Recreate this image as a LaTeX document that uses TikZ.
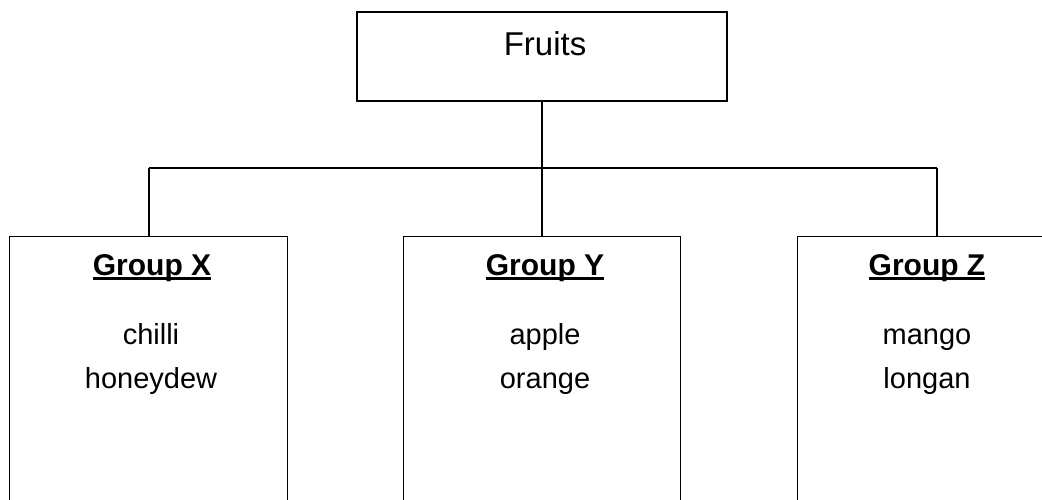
\documentclass[tikz,border=0pt]{standalone}
\usepackage{fontspec}
\setmainfont{Liberation Sans}
\newcommand\grpul[1]{\setbox0\hbox{#1}\rlap{\rule[-4.5pt]{\wd0}{2.6pt}}\box0}
\begin{document}
\begin{tikzpicture}[x=1pt,y=-1pt,
  box/.style={draw,line width=1.4pt,rectangle,inner sep=0pt},
  conn/.style={draw,line width=1.4pt},
  lbl/.style={inner sep=0pt,anchor=base,font=\fontsize{29}{34}\selectfont},
  head/.style={inner sep=0pt,anchor=base,font=\fontsize{30}{34}\selectfont\bfseries}]
\useasboundingbox (0,0) rectangle (1042,499);
\clip (0,0) rectangle (1042,499);
\node[box,minimum width=370pt,minimum height=89pt] (fruits) at (542,56.5) {};
\node[lbl,font=\fontsize{33}{38}\selectfont] (ftext) at (545,55) {Fruits};
\node[box,anchor=north west,minimum width=278pt,minimum height=300pt] (gx) at (9,236) {};
\node[box,anchor=north west,minimum width=277pt,minimum height=300pt] (gy) at (403,236) {};
\node[box,anchor=north west,minimum width=278pt,minimum height=300pt] (gz) at (797,236) {};
\coordinate (jl) at (149,168);
\coordinate (jr) at (937,168);
\draw[conn] (fruits.south) -- (gy.north -| fruits.south);
\draw[conn] (jl) -- (jr);
\draw[conn] (jl) -- (jl |- gx.north);
\draw[conn] (jr) -- (jr |- gz.north);
\node[head] (hx) at (152,275) {\grpul{Group X}};
\node[head] (hy) at (545,275) {\grpul{Group Y}};
\node[head] (hz) at (927,275) {\grpul{Group Z}};
\node[lbl] (x1) at (151,344) {chilli};
\node[lbl] (x2) at (151,388) {honeydew};
\node[lbl] (y1) at (545,344) {apple};
\node[lbl] (y2) at (545,388) {orange};
\node[lbl] (z1) at (927,344) {mango};
\node[lbl] (z2) at (927,388) {longan};
\end{tikzpicture}
\end{document}
